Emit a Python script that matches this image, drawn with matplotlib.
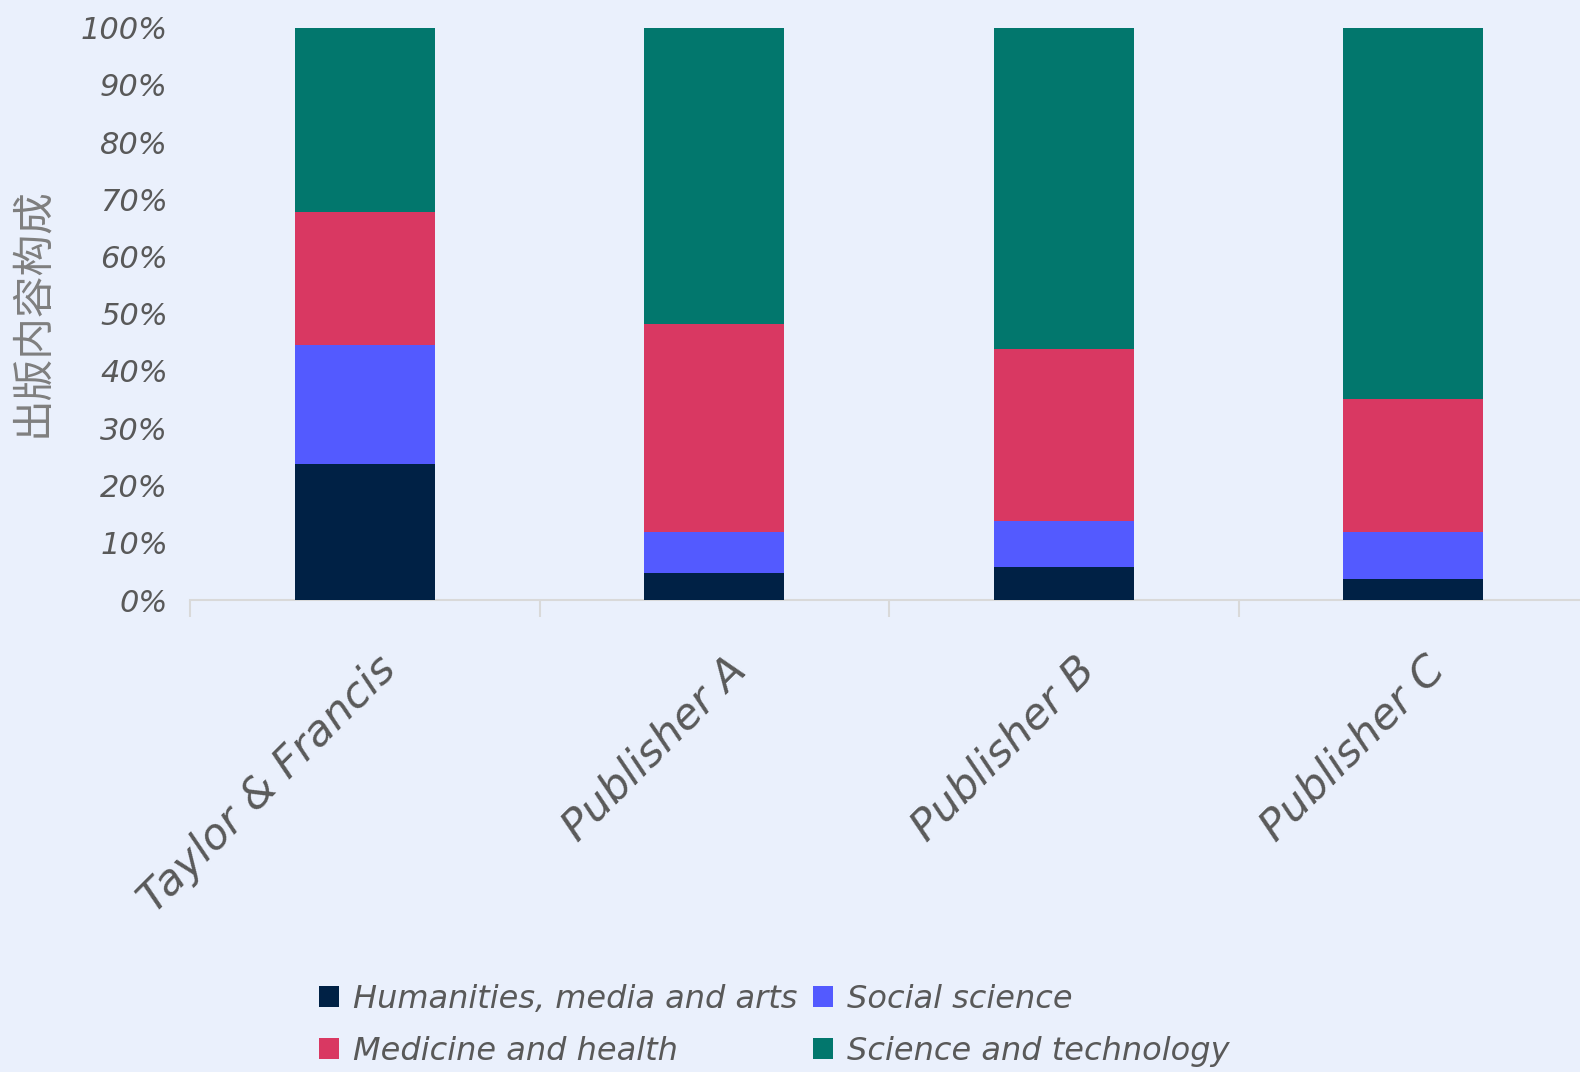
import matplotlib
matplotlib.use("Agg")
import matplotlib.pyplot as plt
import matplotlib.transforms as mtransforms
from matplotlib.patches import Patch

publishers = ["Taylor & Francis", "Publisher A", "Publisher B", "Publisher C"]
series_names = ["Humanities, media and arts", "Social science",
                "Medicine and health", "Science and technology"]
humanities = [23.7, 4.7, 5.8, 3.7]
social = [20.9, 7.2, 8.0, 8.2]
medicine = [23.2, 36.3, 30.0, 23.2]
science = [32.2, 51.8, 56.2, 64.9]
y_ticks = [0, 10, 20, 30, 40, 50, 60, 70, 80, 90, 100]
y_label = "出版内容构成"

colors = ["#002145", "#535AFF", "#D93862", "#02776D"]
bg = "#EAF0FC"
text_c = "#595959"
grid_c = "#D9D9D9"

plt.rcParams["font.family"] = ["DejaVu Sans", "Noto Sans CJK SC"]

fig = plt.figure(figsize=(15.8, 10.72), dpi=100, facecolor=bg)
W, H = 1580, 1072
ax = fig.add_axes([190 / W, (H - 600) / H, 1398 / W, 572.5 / H])
ax.set_facecolor(bg)

x = range(len(publishers))
bottom = [0, 0, 0, 0]
for vals, c, name in zip([humanities, social, medicine, science], colors, series_names):
    ax.bar(x, vals, width=0.4, bottom=bottom, color=c, label=name, zorder=3)
    bottom = [b + v for b, v in zip(bottom, vals)]

ax.set_xlim(-0.5, 3.5)
ax.set_ylim(0, 100)

for s in ["top", "right", "left"]:
    ax.spines[s].set_visible(False)
ax.spines["bottom"].set_color(grid_c)
ax.spines["bottom"].set_linewidth(1.5)

ax.set_yticks(y_ticks)
ax.set_yticklabels([f"{t}%" for t in y_ticks], fontsize=22, style="italic", color=text_c)
ax.tick_params(axis="y", length=0, pad=16)

ax.set_xticks(list(x))
ax.set_xticks([-0.5, 0.5, 1.5, 2.5, 3.5], minor=True)
ax.tick_params(axis="x", which="major", length=0)
ax.tick_params(axis="x", which="minor", length=12, width=1.5, color=grid_c)
labels = ax.set_xticklabels(publishers, fontsize=31, style="italic", color=text_c,
                            rotation=45, ha="right", va="center", rotation_mode="anchor")
offset = mtransforms.ScaledTranslation(18 / 72, -42 / 72, fig.dpi_scale_trans)
for lab in labels:
    lab.set_transform(lab.get_transform() + offset)

fig.text(33 / W, 1 - 312 / H, y_label, rotation=90, ha="center", va="center",
         fontsize=30, color="#7F7F7F", family=["Noto Sans CJK SC", "DejaVu Sans"],
         fontweight="light")

order = [0, 2, 1, 3]
handles = [Patch(facecolor=colors[i], edgecolor="none") for i in order]
names = [series_names[i] for i in order]
fig.legend(handles, names, ncol=2, loc="upper left",
           bbox_to_anchor=(290 / W, 1 - 955 / H), frameon=False,
           handlelength=0.62, handleheight=0.62, handletextpad=0.45,
           columnspacing=0.5, labelspacing=0.65, labelcolor=text_c,
           prop={"style": "italic", "size": 23})

fig.savefig("out.png", dpi=100, facecolor=bg)
